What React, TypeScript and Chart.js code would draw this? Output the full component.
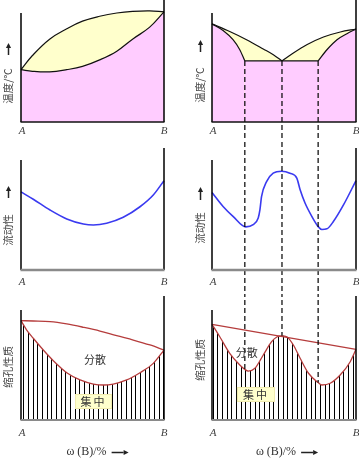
import React, { useEffect, useRef } from "react";
import { Chart, registerables } from "chart.js";
Chart.register(...registerables);

// ---------- text ----------
const xEnds = ["A", "B"];
const tempTitle = "温度/℃";
const fluidTitle = "流动性";
const shrinkTitle = "缩孔性质";
const compTitle = "ω (B)/%";
const dispersedText = "分散";
const concentratedText = "集中";

// ---------- top-left: isomorphous phase diagram ----------
const isoX = [0, 8, 20, 32, 43, 55, 67, 78, 90, 100];
const isoLiquidus = [48, 61, 76, 85.5, 92.5, 97, 100, 101.5, 102, 101];
const isoSolidus = [48, 46.5, 46, 48, 51, 57, 65, 76, 87, 101];

// ---------- top-right: eutectic phase diagram ----------
const eutecticComps = [22.8, 48.6, 73.7];
const eutecticTemp = 56;
const leftLiquidusX = [0, 12.3, 24, 35.6, 42.6, 48.6];
const leftLiquidusY = [90, 83, 75.5, 67, 61.7, 56];
const leftSolidusX = [0, 7.7, 14.6, 19.3, 22.8];
const leftSolidusY = [90, 84, 75.5, 66.3, 56];
const rightLiquidusX = [48.6, 56.5, 65.8, 77.4, 89.1, 100];
const rightLiquidusY = [56, 63.3, 70.9, 78, 82.6, 85.3];
const rightSolidusX = [73.7, 79.8, 86.8, 93.7, 100];
const rightSolidusY = [56, 66.3, 75.5, 81, 85.3];

// ---------- fluidity ----------
const fluidIsoX = [0, 8.6, 20.3, 32, 43.6, 50.6, 59.9, 71.5, 83.2, 92.5, 100];
const fluidIsoY = [71, 64.3, 54.5, 46.4, 41.8, 40.9, 42.5, 47.9, 57.5, 68.2, 81.2];
const fluidEutX = [0, 7.7, 14.6, 23.5, 28.6, 32.1, 33.3, 34.4, 37.9, 42.5, 48.4, 54.1, 58.9, 61.2, 64.6, 69.3, 73.9, 76.3, 79.8, 84.4, 91.4, 100];
const fluidEutY = [70.5, 57.8, 48.8, 39.2, 41.3, 47.3, 54.8, 66.8, 80.4, 88, 89.8, 88, 83.5, 72.9, 60.9, 48.8, 39.2, 36.8, 37.4, 44.3, 59.4, 81.3];

// ---------- shrinkage ----------
const shrinkIsoUpperX = [0, 8.6, 20.3, 32, 43.6, 55.2, 66.9, 78.5, 90.2, 100];
const shrinkIsoUpperY = [90.3, 90, 89.4, 87.3, 84.3, 80.9, 76.6, 72.7, 68.2, 63.6];
const shrinkIsoLowerX = [0, 4, 8.6, 15.6, 22.6, 32, 41.3, 50.6, 57.6, 64.5, 73.9, 83.2, 92.5, 100];
const shrinkIsoLowerY = [90.3, 81.8, 74.3, 63.6, 53.9, 43, 36.4, 32.7, 31.8, 32.7, 36.4, 43, 51.5, 63.6];
const shrinkEutUpperX = [0, 100];
const shrinkEutUpperY = [87, 64.3];
const shrinkEutLowerX = [0, 5.4, 12.3, 19.3, 22.8, 25.2, 29.8, 35.6, 41.4, 45, 48.6, 51.9, 56.5, 61.2, 67, 73.7, 76.3, 82.1, 89, 96, 100];
const shrinkEutLowerY = [87, 75.7, 60.6, 50, 46, 44.5, 47, 59.1, 71.2, 75.5, 76.5, 75.7, 68.2, 56.1, 42.5, 34, 31.8, 33.4, 40.9, 53, 64.3];

// ---------- styles ----------
const PINK = "#FFCCFF";
const YELLOW = "#FFFFCC";
const BLUE = "#3A3AF0";
const RED = "#B53C3C";
const CJK = '"Noto Sans CJK SC", "Noto Sans CJK JP", sans-serif';

const pts = (xs: number[], ys: number[]) => xs.map((x, i) => ({ x, y: ys[i] }));

const curve = (xs: number[], ys: number[], color: string, width: number, extra: any = {}) => ({
  data: pts(xs, ys),
  borderColor: color,
  borderWidth: width,
  pointRadius: 0,
  fill: false,
  cubicInterpolationMode: "monotone",
  clip: false,
  ...extra,
});

const dashed = (x: number, yFrom: number, yTo: number) => ({
  data: [
    { x, y: yFrom },
    { x, y: yTo },
  ],
  borderColor: "#000",
  borderWidth: 1.2,
  borderDash: [5, 3],
  pointRadius: 0,
  fill: false,
  tension: 0,
  clip: false,
});

function hatchPattern(): CanvasPattern {
  const c = document.createElement("canvas");
  c.width = 14;
  c.height = 4;
  const g = c.getContext("2d")!;
  g.fillStyle = "#000";
  [0, 5, 9].forEach((x) => g.fillRect(x, 0, 1, 4));
  return g.createPattern(c, "repeat")!;
}

function arrow(ctx: CanvasRenderingContext2D, x1: number, y1: number, x2: number, y2: number) {
  const a = Math.atan2(y2 - y1, x2 - x1);
  const hl = 5, hw = 2.6;
  ctx.save();
  ctx.strokeStyle = "#222";
  ctx.fillStyle = "#222";
  ctx.lineWidth = 1.5;
  ctx.beginPath();
  ctx.moveTo(x1, y1);
  ctx.lineTo(x2 - Math.cos(a) * hl, y2 - Math.sin(a) * hl);
  ctx.stroke();
  ctx.beginPath();
  ctx.moveTo(x2, y2);
  ctx.lineTo(x2 - Math.cos(a) * hl - Math.sin(a) * hw, y2 - Math.sin(a) * hl + Math.cos(a) * hw);
  ctx.lineTo(x2 - Math.cos(a) * hl + Math.sin(a) * hw, y2 - Math.sin(a) * hl - Math.cos(a) * hw);
  ctx.closePath();
  ctx.fill();
  ctx.restore();
}

function makeDecor(o: any) {
  return {
    id: "decor",
    afterDatasetsDraw(chart: any) {
      const ctx: CanvasRenderingContext2D = chart.ctx;
      const xs = chart.scales.x;
      const ys = chart.scales.y;
      const x0 = xs.getPixelForValue(0);
      const x1 = xs.getPixelForValue(100);
      const yb = ys.getPixelForValue(0);
      const yt = ys.getPixelForValue(100);
      ctx.save();
      (o.notes || []).forEach((n: any) => {
        const px = xs.getPixelForValue(n.x);
        const py = ys.getPixelForValue(n.y);
        if (n.box) {
          const [w, h] = n.box;
          ctx.fillStyle = YELLOW;
          ctx.fillRect(px - w / 2, py - h / 2, w, h);
          ctx.setLineDash([1, 1]);
          ctx.strokeStyle = "#E2D890";
          ctx.lineWidth = 1;
          ctx.strokeRect(Math.round(px - w / 2) + 0.5, Math.round(py - h / 2) + 0.5, w - 1, h - 1);
          ctx.setLineDash([]);
        }
        ctx.font = `11px ${CJK}`;
        (ctx as any).letterSpacing = n.spacing || "0px";
        ctx.fillStyle = "#333";
        ctx.textAlign = "center";
        ctx.textBaseline = "middle";
        ctx.fillText(n.text, px, py);
        (ctx as any).letterSpacing = "0px";
      });
      ctx.strokeStyle = "#000";
      ctx.lineWidth = 1.5;
      ctx.beginPath();
      ctx.moveTo(x0, yt);
      ctx.lineTo(x0, yb);
      ctx.moveTo(x1, o.rightTopPx);
      ctx.lineTo(x1, yb);
      ctx.stroke();
      ctx.beginPath();
      if (o.bottom === "black") {
        ctx.strokeStyle = "#111";
        ctx.lineWidth = 1.5;
      } else {
        ctx.strokeStyle = "#8a8a8a";
        ctx.lineWidth = o.bottom === "grayThick" ? 2.6 : 2;
      }
      ctx.moveTo(x0 - 0.5, yb);
      ctx.lineTo(x1 + 0.5, yb);
      ctx.stroke();
      ctx.font = 'italic 11px "Liberation Serif", serif';
      ctx.fillStyle = "#444";
      ctx.textAlign = "center";
      ctx.textBaseline = "middle";
      ctx.fillText(xEnds[0], x0 + 1, yb + o.tickOffset);
      ctx.fillText(xEnds[1], x1, yb + o.tickOffset);
      const t = o.yTitle;
      ctx.save();
      ctx.translate(t.cx, t.cy);
      ctx.rotate(-Math.PI / 2);
      ctx.font = `10.5px ${CJK}`;
      ctx.fillStyle = "#444";
      ctx.textAlign = "center";
      ctx.textBaseline = "middle";
      ctx.fillText(t.text, 0, 0);
      ctx.restore();
      if (t.arrow) arrow(ctx, t.cx + 0.5, t.arrow[0], t.cx + 0.5, t.arrow[1]);
      if (o.xTitle) {
        ctx.font = '12px "Liberation Serif", serif';
        ctx.fillStyle = "#333";
        const w = ctx.measureText(compTitle).width;
        const total = w + 5 + 17;
        const sx = o.xTitle.cx - total / 2;
        ctx.textAlign = "left";
        ctx.textBaseline = "middle";
        ctx.fillText(compTitle, sx, o.xTitle.cy);
        arrow(ctx, sx + w + 5, o.xTitle.cy + 0.5, sx + total, o.xTitle.cy + 0.5);
      }
      ctx.restore();
    },
  };
}

function cfg(p: any) {
  const yMax = (100 * p.bottomPx) / (p.bottomPx - p.axisTopPx);
  return {
    type: "line",
    data: { datasets: p.datasets },
    options: {
      animation: false,
      responsive: false,
      maintainAspectRatio: false,
      events: [],
      layout: { padding: { left: p.padL, right: p.padR, top: 0, bottom: p.height - p.bottomPx } },
      plugins: { legend: { display: false }, tooltip: { enabled: false } },
      scales: {
        x: { type: "linear", min: 0, max: 100, display: false },
        y: { type: "linear", min: 0, max: yMax, display: false },
      },
      elements: { point: { radius: 0 } },
    },
    plugins: [makeDecor(p.decor)],
  };
}

const smooth = { cubicInterpolationMode: "default", tension: 0.4 };

const buildTL = () =>
  cfg({
    padL: 21, padR: 16, height: 140, bottomPx: 122, axisTopPx: 13,
    datasets: [
      curve(isoX, isoSolidus, "#111", 1.2, { ...smooth, fill: "origin", backgroundColor: PINK }),
      curve(isoX, isoLiquidus, "#111", 1.2, { ...smooth, fill: "origin", backgroundColor: YELLOW }),
    ],
    decor: { rightTopPx: 0, bottom: "black", tickOffset: 9, yTitle: { text: tempTitle, cx: 8, cy: 86, arrow: [55, 43] } },
  });

const buildTR = () =>
  cfg({
    padL: 32, padR: 3, height: 140, bottomPx: 122, axisTopPx: 13,
    datasets: [
      ...eutecticComps.map((c) => dashed(c, eutecticTemp, -300)),
      curve(leftSolidusX, leftSolidusY, "#111", 1.2, { fill: "origin", backgroundColor: PINK }),
      curve([eutecticComps[0], eutecticComps[2]], [eutecticTemp, eutecticTemp], "#111", 1.2, { fill: "origin", backgroundColor: PINK }),
      curve(rightSolidusX, rightSolidusY, "#111", 1.2, { fill: "origin", backgroundColor: PINK }),
      curve(leftLiquidusX, leftLiquidusY, "#111", 1.2, { fill: "origin", backgroundColor: YELLOW }),
      curve(rightLiquidusX, rightLiquidusY, "#111", 1.2, { fill: "origin", backgroundColor: YELLOW }),
    ],
    decor: { rightTopPx: 0, bottom: "black", tickOffset: 9, yTitle: { text: tempTitle, cx: 20, cy: 85, arrow: [52, 40] } },
  });

const buildML = () =>
  cfg({
    padL: 21, padR: 16, height: 156, bottomPx: 130, axisTopPx: 20,
    datasets: [curve(fluidIsoX, fluidIsoY, BLUE, 1.6)],
    decor: { rightTopPx: 8, bottom: "grayThick", tickOffset: 12, yTitle: { text: fluidTitle, cx: 8, cy: 90, arrow: [58, 46] } },
  });

const buildMR = () =>
  cfg({
    padL: 32, padR: 3, height: 156, bottomPx: 130, axisTopPx: 20,
    datasets: [
      ...eutecticComps.map((c) => dashed(c, 400, -400)),
      curve(fluidEutX, fluidEutY, BLUE, 1.6),
    ],
    decor: { rightTopPx: 8, bottom: "grayThick", tickOffset: 12, yTitle: { text: fluidTitle, cx: 20, cy: 88, arrow: [60, 47] } },
  });

const buildBL = (hatch: CanvasPattern) =>
  cfg({
    padL: 21, padR: 16, height: 164, bottomPx: 124, axisTopPx: 14,
    datasets: [
      curve(shrinkIsoUpperX, shrinkIsoUpperY, RED, 1.3),
      curve(shrinkIsoLowerX, shrinkIsoLowerY, RED, 1.3, { fill: "origin", backgroundColor: hatch }),
    ],
    decor: {
      rightTopPx: 0, bottom: "gray", tickOffset: 13,
      yTitle: { text: shrinkTitle, cx: 8, cy: 71 },
      xTitle: { cx: 97.5, cy: 156 },
      notes: [
        { text: dispersedText, x: 51.7, y: 54.5 },
        { text: concentratedText, x: 50.7, y: 16.8, box: [37, 15], spacing: "2px" },
      ],
    },
  });

const buildBR = (hatch: CanvasPattern) =>
  cfg({
    padL: 32, padR: 3, height: 164, bottomPx: 124, axisTopPx: 14,
    datasets: [
      ...eutecticComps.map((c) => dashed(c, 400, shrinkEutLowerY[shrinkEutLowerX.indexOf(c)])),
      curve(shrinkEutUpperX, shrinkEutUpperY, RED, 1.3, { tension: 0, cubicInterpolationMode: "default" }),
      curve(shrinkEutLowerX, shrinkEutLowerY, RED, 1.3, { fill: "origin", backgroundColor: hatch }),
    ],
    decor: {
      rightTopPx: 0, bottom: "gray", tickOffset: 13,
      yTitle: { text: shrinkTitle, cx: 20, cy: 64 },
      xTitle: { cx: 107, cy: 156 },
      notes: [
        { text: dispersedText, x: 24.2, y: 61.4 },
        { text: concentratedText, x: 30.5, y: 23.2, box: [38, 15], spacing: "2px" },
      ],
    },
  });

function Panel(props: { left: number; top: number; width: number; height: number; build: (h: CanvasPattern) => any }) {
  const ref = useRef<HTMLCanvasElement>(null);
  useEffect(() => {
    const chart = new Chart(ref.current as HTMLCanvasElement, props.build(hatchPattern()) as any);
    return () => chart.destroy();
  }, []);
  return (
    <canvas
      ref={ref}
      width={props.width}
      height={props.height}
      style={{ position: "absolute", left: props.left, top: props.top, width: props.width, height: props.height }}
    />
  );
}

export default function App() {
  return (
    <div style={{ position: "absolute", left: 0, top: 0, width: 359, height: 460, background: "#fff", overflow: "hidden" }}>
      <Panel left={0} top={0} width={180} height={140} build={buildTL} />
      <Panel left={180} top={0} width={179} height={140} build={buildTR} />
      <Panel left={0} top={140} width={180} height={156} build={buildML} />
      <Panel left={180} top={140} width={179} height={156} build={buildMR} />
      <Panel left={0} top={296} width={180} height={164} build={buildBL} />
      <Panel left={180} top={296} width={179} height={164} build={buildBR} />
    </div>
  );
}
